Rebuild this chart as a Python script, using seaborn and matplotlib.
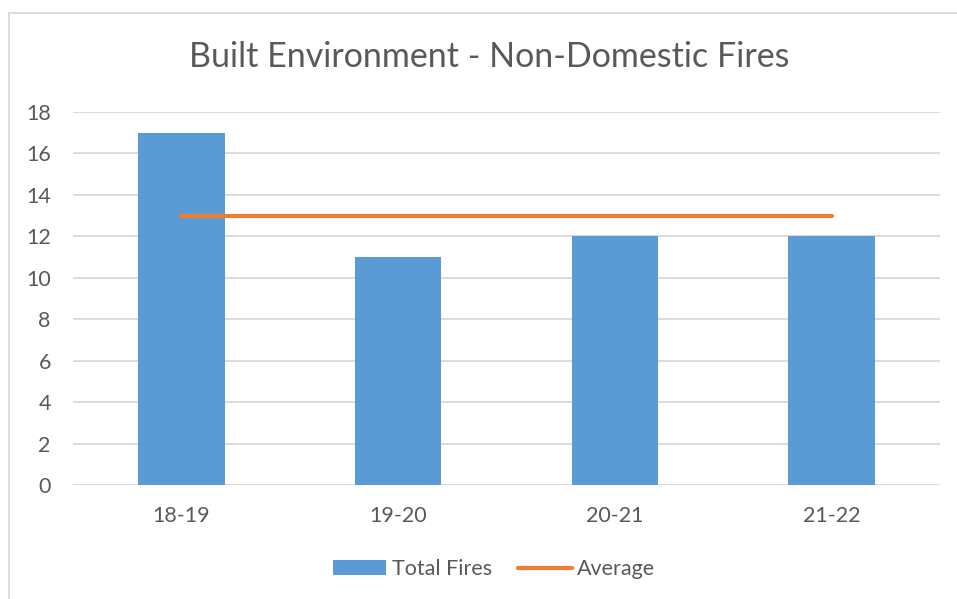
import matplotlib
matplotlib.use("Agg")
import matplotlib.pyplot as plt
from matplotlib.patches import Rectangle, Patch
from matplotlib.lines import Line2D
import pandas as pd
import seaborn as sns

# data
years = ["18-19", "19-20", "20-21", "21-22"]
total_fires = [17, 11, 12, 12]
average = [13, 13, 13, 13]

sns.set_theme(style="white")
plt.rcParams['font.family'] = ['Lato', 'DejaVu Sans']

grey_text = "#595959"
blue = "#5B9BD5"
orange = "#ED7D31"
grid_col = "#D9D9D9"

df = pd.DataFrame({"year": years, "fires": total_fires, "avg": average})

fig = plt.figure(figsize=(9.57, 5.99), dpi=100)
ax = fig.add_axes([0.0763, 0.1903, 0.9822 - 0.0763, 0.813 - 0.1903])

sns.barplot(data=df, x="year", y="fires", color=blue, saturation=1, width=0.4,
            linewidth=0, ax=ax, zorder=2)
ax.plot(range(len(years)), df["avg"], color=orange, lw=3, solid_capstyle="round", zorder=3)

ax.set_xlim(-0.5, len(years) - 0.5)
ax.set_ylim(0, 18)
ax.set_yticks(range(0, 19, 2))
ax.yaxis.grid(True, color=grid_col, lw=1.3)
ax.set_axisbelow(True)
for s in ax.spines.values():
    s.set_visible(False)
ax.set_xlabel("")
ax.set_ylabel("")
ax.tick_params(axis="y", length=0, pad=16, labelsize=15.5, labelcolor=grey_text)
ax.tick_params(axis="x", length=0, pad=15, labelsize=15.5, labelcolor=grey_text)

fig.text(0.5115, 1 - 57 / 599, "Built Environment - Non-Domestic Fires",
         ha="center", va="center", fontsize=24.5, color=grey_text)

handles = [Patch(facecolor=blue, edgecolor="none"),
           Line2D([], [], color=orange, lw=3, solid_capstyle="round")]
fig.legend(handles, ["Total Fires", "Average"], loc="center",
           bbox_to_anchor=(0.516, 1 - 569 / 599), ncol=2, frameon=False,
           fontsize=15.5, labelcolor=grey_text, handlelength=2.5, handleheight=0.65,
           handletextpad=0.25, columnspacing=1.2)

# chart border (only left and top visible in the crop)
fig.patches.append(Rectangle((9 / 957, -0.05), 1.2, 1 - 13 / 599 + 0.05,
                             transform=fig.transFigure, fill=False,
                             edgecolor=grid_col, lw=1.3))

fig.savefig("out.png", dpi=100)
